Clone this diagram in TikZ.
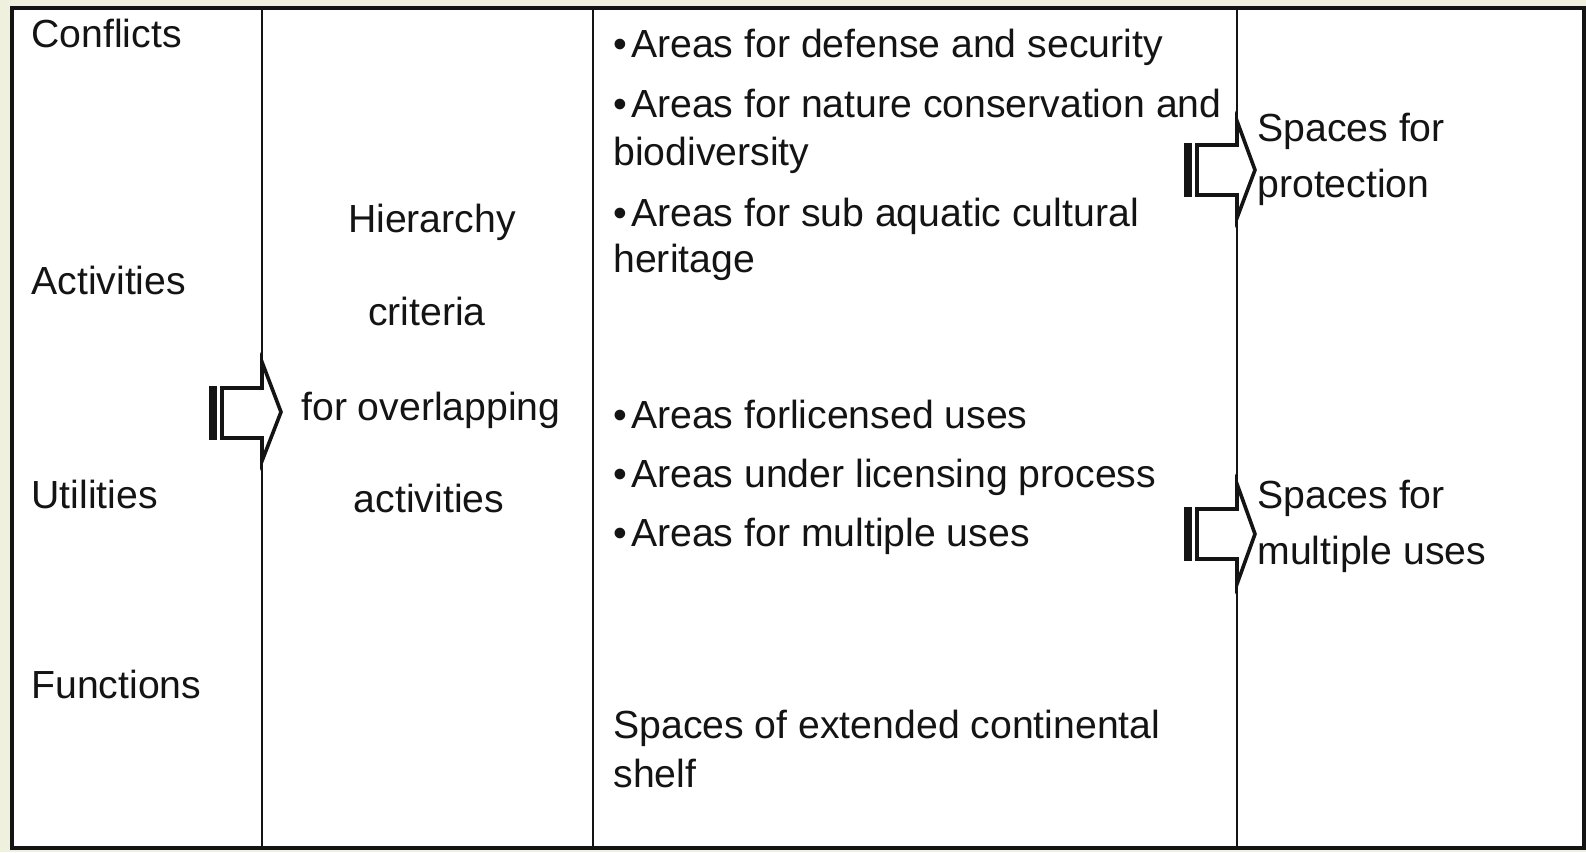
\documentclass[tikz,border=0pt]{standalone}
\usepackage{fontspec}
\setmainfont{Liberation Sans}
\definecolor{bgbeige}{RGB}{240,240,222}
\definecolor{ink}{RGB}{20,20,20}
\tikzset{
  txt/.style={anchor=base west, inner sep=0pt, text=ink, font=\fontsize{19.6}{24}\selectfont},
  ctxt/.style={anchor=base, inner sep=0pt, text=ink, font=\fontsize{19.6}{24}\selectfont},
  frame/.style={draw=ink, line width=1.6pt},
  colline/.style={draw=ink, line width=1.2pt},
  blockarrow/.style={draw=ink, fill=white, line width=1.8pt, line join=miter},
  tailbar/.style={fill=ink, draw=none},
}
\newcommand{\bul}{\textbullet\kern2pt}
\begin{document}
\begin{tikzpicture}[x=0.5pt,y=-0.5pt]
\useasboundingbox (0,0) rectangle (1586,852);
\fill[bgbeige] (0,0) rectangle (1586,852);
\fill[white] (12,8) rectangle (1584,848);
% column lines
\draw[colline] (262,8) -- (262,848);
\draw[colline] (593,8) -- (593,848);
\draw[colline] (1237,8) -- (1237,848);
\draw[frame] (12,8) rectangle (1584,848);

% column 1
\node[txt] (conf) at (31,47) {Conflicts};
\node[txt] (act) at (31,294) {Activities};
\node[txt] (util) at (31,508) {Utilities};
\node[txt] (func) at (31,698) {Functions};

% column 2
\node[ctxt] (h1) at (432,232) {Hierarchy};
\node[ctxt] (h2) at (427,325) {criteria};
\node[ctxt] (h3) at (431,420) {for overlapping};
\node[ctxt] (h4) at (429,512) {activities};

% column 3
\node[txt] (a1) at (613,57) {\bul Areas for defense and security};
\node[txt] (a2) at (613,117) {\bul Areas for nature conservation and};
\node[txt] (a2b) at (613,165) {biodiversity};
\node[txt] (a3) at (613,226) {\bul Areas for sub aquatic cultural};
\node[txt] (a3b) at (613,272) {heritage};
\node[txt] (b1) at (613,428) {\bul Areas forlicensed uses};
\node[txt] (b2) at (613,487) {\bul Areas under licensing process};
\node[txt] (b3) at (613,546) {\bul Areas for multiple uses};
\node[txt] (c1) at (613,738) {Spaces of extended continental};
\node[txt] (c1b) at (613,787) {shelf};

% column 4
\node[txt] (p1) at (1257,141) {Spaces for};
\node[txt] (p2) at (1257,197) {protection};
\node[txt] (m1) at (1257,508) {Spaces for};
\node[txt] (m2) at (1257,564) {multiple uses};

% block arrow 1
\draw[blockarrow] (222,388) -- (262,388) -- (262,362) -- (281,412) -- (262,461) -- (262,438) -- (222,438) -- cycle;
\fill[tailbar] (209,386) rectangle (217,440);
% block arrow 2
\draw[blockarrow] (1197,145) -- (1237,145) -- (1237,121) -- (1255,170) -- (1237,218) -- (1237,195) -- (1197,195) -- cycle;
\fill[tailbar] (1184,143) rectangle (1192,197);
% block arrow 3
\draw[blockarrow] (1197,509) -- (1237,509) -- (1237,484) -- (1255,534) -- (1237,584) -- (1237,559) -- (1197,559) -- cycle;
\fill[tailbar] (1184,507) rectangle (1192,561);
\end{tikzpicture}
\end{document}
